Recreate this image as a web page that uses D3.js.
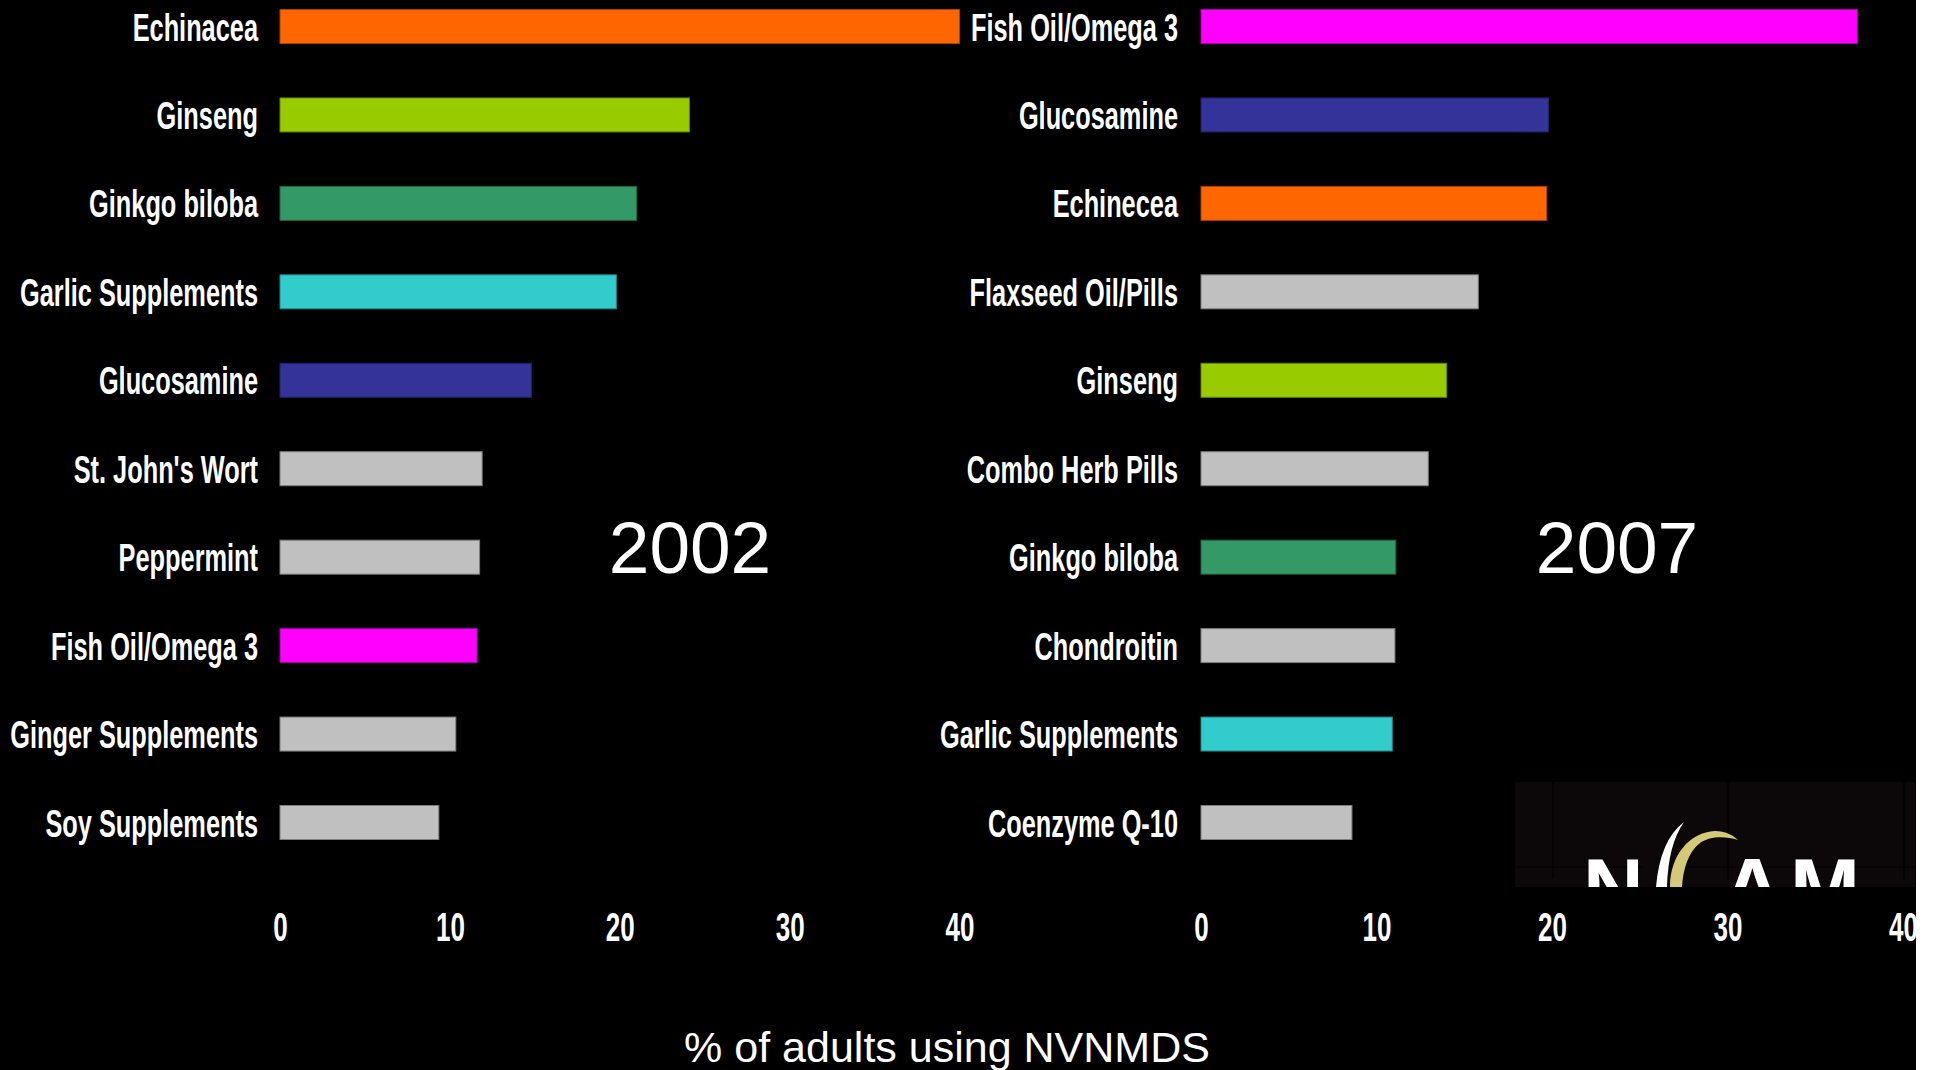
<!DOCTYPE html>
<html>
<head>
<meta charset="utf-8">
<script src="https://cdn.jsdelivr.net/npm/d3@7"></script>
<style>
    body { margin: 0; background: #000; overflow: hidden; }
    .lbl { font-family: "Liberation Sans", Arial, sans-serif; font-weight: bold; fill: #fff; }
</style>
</head>
<body>
<div id="chart"></div>
<script>
// 2002 survey
const items2002 = ["Echinacea", "Ginseng", "Ginkgo biloba", "Garlic Supplements", "Glucosamine",
    "St. John's Wort", "Peppermint", "Fish Oil/Omega 3", "Ginger Supplements", "Soy Supplements"];
const values2002 = [40.0, 24.1, 21.0, 19.8, 14.8, 11.9, 11.75, 11.6, 10.35, 9.35];

// 2007 survey
const items2007 = ["Fish Oil/Omega 3", "Glucosamine", "Echinecea", "Flaxseed Oil/Pills", "Ginseng",
    "Combo Herb Pills", "Ginkgo biloba", "Chondroitin", "Garlic Supplements", "Coenzyme Q-10"];
const values2007 = [37.4, 19.8, 19.7, 15.8, 14.0, 12.95, 11.1, 11.05, 10.9, 8.6];

const ticks = [0, 10, 20, 30, 40];
const axisTitle = "% of adults using NVNMDS";

const colorOf = {
    "Echinacea": "#FF6600", "Echinecea": "#FF6600",
    "Ginseng": "#99CC00",
    "Ginkgo biloba": "#339966",
    "Garlic Supplements": "#33CCCC",
    "Glucosamine": "#333399",
    "Fish Oil/Omega 3": "#FF00FF"
};
const otherColor = "#C0C0C0";

const W = 1934, H = 1070;
const squeeze = 0.65;   // condensed look

const svg = d3.select("#chart").append("svg")
    .attr("width", W)
    .attr("height", H);

svg.append("rect").attr("width", W).attr("height", H).attr("fill", "#000");

// logo block, drawn first so bars sit on top
const logo = svg.append("g");
logo.append("clipPath").attr("id", "logoClip")
    .append("rect").attr("x", 1515).attr("y", 782).attr("width", 400).attr("height", 105);
const lg = logo.append("g").attr("clip-path", "url(#logoClip)");
lg.append("rect").attr("x", 1515).attr("y", 782).attr("width", 400).attr("height", 105).attr("fill", "#0c0809");
[1553, 1728, 1904].forEach(x => {
    lg.append("line").attr("x1", x).attr("x2", x).attr("y1", 782).attr("y2", 879)
        .attr("stroke", "#000").attr("stroke-width", 1.2);
});
lg.append("line").attr("x1", 1515).attr("x2", 1915).attr("y1", 867).attr("y2", 867)
    .attr("stroke", "#000").attr("stroke-width", 1.2);
lg.append("text").attr("x", 1583).attr("y", 917).text("N")
    .attr("font-family", "Liberation Sans").attr("font-weight", "bold").attr("font-size", 84).attr("fill", "#fff");
lg.append("text").attr("x", 1722).attr("y", 917).text("A")
    .attr("font-family", "Liberation Sans").attr("font-weight", "bold").attr("font-size", 84).attr("fill", "#fff");
lg.append("text").attr("x", 1790).attr("y", 917).text("M")
    .attr("font-family", "Liberation Sans").attr("font-weight", "bold").attr("font-size", 84).attr("fill", "#fff");
lg.append("path")
    .attr("d", "M1640,887 C1641,860 1652,835 1684,822 C1666,838 1658,860 1656,887 Z")
    .attr("fill", "#0c0809");
lg.append("path")
    .attr("d", "M1656,887 Q1660,840 1684,822 Q1668,845 1667,887 Z")
    .attr("fill", "#fff");
lg.append("path")
    .attr("d", "M1670,887 C1670,855 1690,832 1715,831 C1725,831 1733,835 1738,840 C1725,836 1710,836 1700,843 C1688,852 1683,870 1682,887 Z")
    .attr("fill", "#d4c87a");

function drawPanel(items, values, x0, x1, labelX, year, yearX) {
    const x = d3.scaleLinear().domain([0, 40]).range([x0, x1]);
    const y = d3.scalePoint().domain(items).range([26.5, 822.5]);
    const barH = 34;

    const g = svg.append("g");

    g.selectAll("rect.bar")
        .data(items)
        .join("rect")
        .attr("class", "bar")
        .attr("x", x(0))
        .attr("y", d => y(d) - barH / 2)
        .attr("width", (d, i) => x(values[i]) - x(0))
        .attr("height", barH)
        .attr("fill", d => colorOf[d] || otherColor)
        .attr("stroke", d => d3.color(colorOf[d] || otherColor).darker(1.2))
        .attr("stroke-width", 1);

    g.selectAll("text.name")
        .data(items)
        .join("text")
        .attr("class", "lbl name")
        .attr("text-anchor", "end")
        .attr("font-size", 39)
        .attr("transform", d => `translate(${labelX},${y(d) + 14}) scale(${squeeze},1)`)
        .text(d => d);

    const axis = g.append("g")
        .attr("transform", "translate(0,941)")
        .call(d3.axisBottom(x).tickValues(ticks).tickSize(0).tickPadding(0));
    axis.select(".domain").remove();
    axis.selectAll("text")
        .attr("class", "lbl")
        .attr("dy", 0)
        .attr("y", 0)
        .attr("font-size", 40)
        .attr("transform", `scale(${squeeze},1)`)
        .style("font-family", "'Liberation Sans', Arial, sans-serif")
        .style("font-weight", "bold")
        .style("fill", "#fff");

    svg.append("text")
        .attr("x", yearX)
        .attr("y", 573)
        .attr("text-anchor", "middle")
        .attr("font-family", "'Liberation Sans', Arial, sans-serif")
        .attr("font-size", 73)
        .attr("fill", "#fff")
        .text(year);
}

drawPanel(items2002, values2002, 280, 959.5, 258, "2002", 690);
drawPanel(items2007, values2007, 1201, 1903, 1178, "2007", 1617);

// white strip along the right edge of the slide
svg.append("rect").attr("x", 1916).attr("width", W - 1916).attr("height", H).attr("fill", "#fff");

svg.append("text")
    .attr("x", 947)
    .attr("y", 1062)
    .attr("text-anchor", "middle")
    .attr("font-family", "'Liberation Sans', Arial, sans-serif")
    .attr("font-size", 43)
    .attr("fill", "#fff")
    .text(axisTitle);
</script>
</body>
</html>
